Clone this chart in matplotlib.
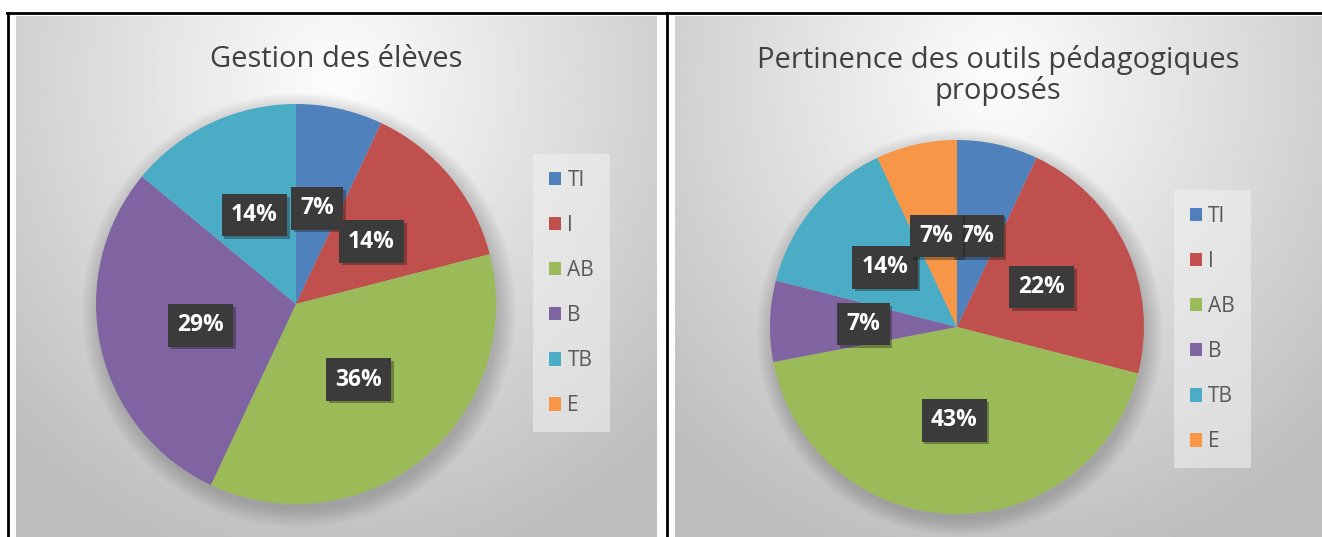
import numpy as np
import matplotlib
matplotlib.use("Agg")
import matplotlib.pyplot as plt
from matplotlib.patches import Patch, Circle
from matplotlib.lines import Line2D
import matplotlib.patheffects as pe

W, H = 1322, 537

categories = ["TI", "I", "AB", "B", "TB", "E"]
colors = ["#4F81BD", "#C0504D", "#9BBB59", "#8064A2", "#4BACC6", "#F79646"]

title_1 = "Gestion des élèves"
values_1 = [7, 14, 36, 29, 14, 0]

title_2 = "Pertinence des outils pédagogiques\nproposés"
values_2 = [7, 22, 43, 7, 14, 7]

FONT = ["Open Sans", "DejaVu Sans"]


def px_rect(x0, y0, x1, y1):
    """pixel box (top-left origin) -> figure fraction rect"""
    return [x0 / W, 1 - y1 / H, (x1 - x0) / W, (y1 - y0) / H]


def background(rect):
    ax = fig.add_axes(rect, zorder=0)
    yy, xx = np.mgrid[0:1:300j, 0:1:300j]
    d = np.sqrt(((xx - 0.5) / 0.75) ** 2 + ((yy - 0.12) / 1.0) ** 2)
    g = np.clip(253 - 66 * d, 190, 253) / 255.0
    ax.imshow(g, cmap="gray", vmin=0, vmax=1, extent=(0, 1, 1, 0),
              aspect="auto", interpolation="bilinear")
    ax.set_xlim(0, 1); ax.set_ylim(1, 0)
    ax.axis("off")
    return ax


def draw_pie(vals, cx, cy, r, lbl_dist):
    ax = fig.add_axes(px_rect(cx - r, cy - r, cx + r, cy + r), zorder=2)
    # soft shadow
    for k in range(8):
        ax.add_patch(Circle((0.015, -0.03), 1.0 + 0.012 * k, color="black",
                            alpha=0.025, lw=0, zorder=0, clip_on=False))
    wedges, _ = ax.pie(vals, colors=colors, startangle=90, counterclock=False,
                       radius=1.0, wedgeprops=dict(linewidth=0))
    ax.set_xlim(-1, 1); ax.set_ylim(-1, 1)
    ax.set_aspect("equal")
    for w, v in zip(wedges, vals):
        if v <= 0:
            continue
        ang = np.deg2rad((w.theta1 + w.theta2) / 2)
        t = ax.text(lbl_dist * np.cos(ang), lbl_dist * np.sin(ang), f"{v}%",
                    ha="center", va="center", color="white", fontsize=16.5,
                    fontweight="bold", family=FONT, zorder=5,
                    bbox=dict(boxstyle="square,pad=0.4", fc="#3b3b3b", ec="none"))
        t.get_bbox_patch().set_path_effects(
            [pe.withSimplePatchShadow(offset=(2, -2), alpha=0.35)])
    return ax


fig = plt.figure(figsize=(W / 100, H / 100), dpi=100, facecolor="white")

# panel backgrounds
background(px_rect(16, 16, 657, H))
background(px_rect(675, 16, W, H))

# black frame lines
for xs, ys in [((7, W), (13, 13)), ((8, 8), (13, H)), ((667, 667), (13, H))]:
    fig.add_artist(Line2D([x / W for x in xs], [1 - y / H for y in ys],
                          color="black", lw=2, zorder=10))

# titles
fig.text(336 / W, 1 - 45 / H, title_1, ha="center", va="top", fontsize=21,
         color="#404040", family=FONT, zorder=3)
fig.text(998 / W, 1 - 45 / H, title_2, ha="center", va="top", fontsize=21,
         color="#404040", family=FONT, linespacing=1.05, zorder=3)

draw_pie(values_1, 296, 304, 200, 0.49)
draw_pie(values_2, 957, 327, 187, 0.50)

# legends
handles = [Patch(facecolor=c, edgecolor="none") for c in colors]
for x0, y0 in [(533, 154), (1174, 190)]:
    leg = fig.legend(handles, categories, loc="upper left",
                     bbox_to_anchor=(x0 / W, 1 - y0 / H), borderaxespad=0,
                     frameon=True, fancybox=False, facecolor="#f2f2f2",
                     edgecolor="none", framealpha=0.55,
                     handlelength=0.6, handleheight=0.6, handletextpad=0.3,
                     labelspacing=1.16, borderpad=0.75,
                     prop=dict(family=FONT, size=15))
    for t in leg.get_texts():
        t.set_color("#595959")
    leg.set_zorder(4)

fig.savefig("out.png", dpi=100, facecolor="white")
